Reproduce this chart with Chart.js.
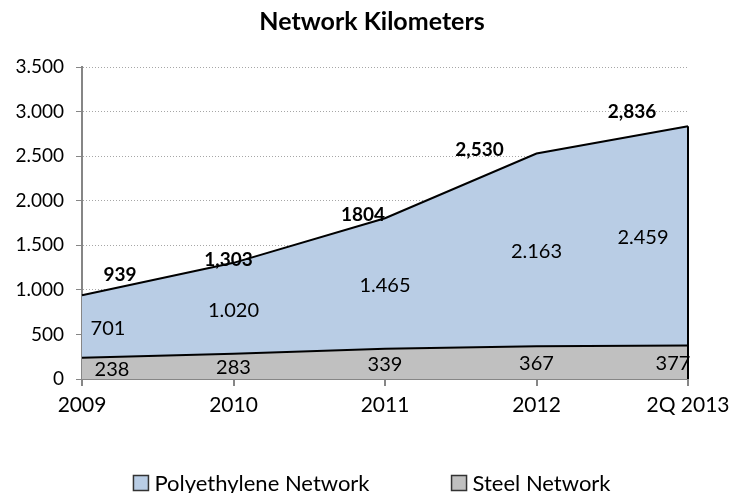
<!DOCTYPE html>
<html>
<head>
<meta charset="utf-8">
<script src="https://cdn.jsdelivr.net/npm/chart.js@4/dist/chart.umd.min.js"></script>
<style>
  html, body { margin: 0; padding: 0; background: #fff; }
  #wrap { width: 744px; height: 493px; }
</style>
</head>
<body>
<div id="wrap"><canvas id="netChart"></canvas></div>
<script>
// Network kilometers, stacked
const years = ['2009', '2010', '2011', '2012', '2Q 2013'];
const steel = [238, 283, 339, 367, 377];
const poly = [701, 1020, 1465, 2163, 2459];
const totalText = ['939', '1,303', '1804', '2,530', '2,836'];

// label nudges (px), per point
const steelNudge = [30, 0, 0, 0, -15];
const polyNudge = [26, 0, 0, 0, -45];
const totalNudge = [[38, -20], [-5, -3], [-22, -3], [-57, -4], [-56, -14]];

const FONT = 'Lato';
const fmtDot = v => String(v).replace(/\B(?=(\d{3})+(?!\d))/g, '.');

const labelsPlugin = {
    id: 'areaLabels',
    afterDatasetsDraw(chart) {
        const ctx = chart.ctx;
        const x = chart.scales.x, y = chart.scales.y;
        const area = chart.chartArea;
        ctx.save();
        // right-hand outline of the stacked area
        ctx.strokeStyle = '#000';
        ctx.lineWidth = 2;
        ctx.beginPath();
        ctx.moveTo(area.right, y.getPixelForValue(0));
        ctx.lineTo(area.right, y.getPixelForValue(steel[4] + poly[4]));
        ctx.stroke();

        ctx.fillStyle = '#000';
        ctx.textAlign = 'center';
        ctx.textBaseline = 'middle';
        ctx.font = '20px "' + FONT + '"';
        years.forEach((_, i) => {
            const px = x.getPixelForValue(i);
            ctx.fillText(String(steel[i]), px + steelNudge[i], y.getPixelForValue(steel[i] / 2) + 1);
            ctx.fillText(fmtDot(poly[i]), px + polyNudge[i], y.getPixelForValue(steel[i] + poly[i] / 2) + 2);
        });
        ctx.font = 'bold 19px "' + FONT + '"';
        years.forEach((_, i) => {
            const px = x.getPixelForValue(i);
            const py = y.getPixelForValue(steel[i] + poly[i]);
            ctx.fillText(totalText[i], px + totalNudge[i][0], py + totalNudge[i][1]);
        });
        ctx.restore();
    }
};

// legend drawn by hand so the wide gap between the two entries fits
const legendPlugin = {
    id: 'wideLegend',
    afterDraw(chart) {
        const ctx = chart.ctx;
        const items = chart.data.datasets.slice().reverse();
        const box = 15, gapText = 6, gapItem = 82, cy = 483;
        ctx.save();
        ctx.font = '22px "' + FONT + '"';
        ctx.textBaseline = 'middle';
        const widths = items.map(ds => ctx.measureText(ds.label).width);
        let total = widths.reduce((a, w) => a + box + gapText + w, 0) + gapItem * (items.length - 1);
        let xx = chart.width / 2 - total / 2;
        items.forEach((ds, i) => {
            ctx.fillStyle = ds.backgroundColor;
            ctx.fillRect(xx, cy - box / 2, box, box);
            ctx.strokeStyle = '#333';
            ctx.lineWidth = 1.5;
            ctx.strokeRect(xx, cy - box / 2, box, box);
            ctx.fillStyle = '#000';
            ctx.fillText(ds.label, xx + box + gapText, cy + 1);
            xx += box + gapText + widths[i] + gapItem;
        });
        ctx.restore();
    }
};

new Chart(document.getElementById('netChart').getContext('2d'), {
    type: 'line',
    data: {
        labels: years,
        datasets: [
            { label: 'Steel Network', data: steel, fill: 'origin', backgroundColor: '#c0c0c0', borderColor: '#000', borderWidth: 2, pointRadius: 0, tension: 0 },
            { label: 'Polyethylene Network', data: poly, fill: '-1', backgroundColor: '#b9cde5', borderColor: '#000', borderWidth: 2, pointRadius: 0, tension: 0 }
        ]
    },
    options: {
        responsive: true,
        maintainAspectRatio: false,
        animation: false,
        layout: { padding: { left: 0, right: 0, top: 7, bottom: 0 } },
        plugins: {
            title: { display: true, text: 'Network Kilometers', color: '#000', font: { family: FONT, size: 25, weight: 'bold' }, padding: { top: 0, bottom: 30 } },
            legend: { display: false },
            tooltip: { enabled: false }
        },
        scales: {
            x: {
                offset: false,
                grid: { drawOnChartArea: false, drawTicks: true, tickLength: 7, color: '#868686', lineWidth: 2 },
                border: { color: '#868686', width: 2 },
                ticks: { color: '#000', font: { family: FONT, size: 21 }, maxRotation: 0, padding: 7 },
                afterFit(s) { s.height = 114; s.paddingRight = 56; }
            },
            y: {
                stacked: true,
                min: 0, max: 3500,
                grid: { color: '#a6a6a6', lineWidth: 1, tickLength: 6, tickColor: '#868686', tickBorderDash: [] },
                border: { color: '#868686', width: 2, dash: [1, 2] },
                ticks: { stepSize: 500, color: '#000', font: { family: FONT, size: 19 }, padding: 12, callback: v => fmtDot(v) },
                afterFit(s) { s.width = 82; }
            }
        }
    },
    plugins: [labelsPlugin, legendPlugin]
});
</script>
</body>
</html>
